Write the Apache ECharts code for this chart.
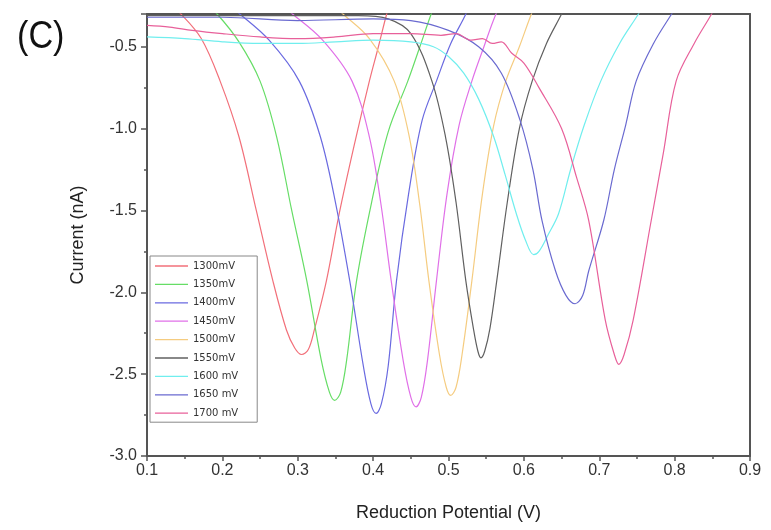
<!DOCTYPE html>
<html><head><meta charset="utf-8">
<script src="https://cdn.jsdelivr.net/npm/echarts@6/dist/echarts.min.js"></script>
<style>html,body{margin:0;padding:0;background:#fff}#c{width:771px;height:530px}</style>
</head><body><div id="c"></div>
<script>
const seriesNames = ['1300mV','1350mV','1400mV','1450mV','1500mV','1550mV','1600 mV','1650 mV','1700 mV'];
const xTicks = [0.1,0.2,0.3,0.4,0.5,0.6,0.7,0.8,0.9];
const yTicks = [-3.0,-2.5,-2.0,-1.5,-1.0,-0.5];

const s1300 = [[0.125,-0.22],[0.145,-0.30],[0.172,-0.45],[0.197,-0.71],[0.222,-1.05],[0.245,-1.50],[0.267,-1.93],[0.285,-2.23],[0.296,-2.34],[0.305,-2.38],[0.314,-2.35],[0.322,-2.23],[0.338,-1.93],[0.355,-1.52],[0.375,-1.10],[0.395,-0.71],[0.407,-0.50],[0.418,-0.30],[0.428,-0.15]];
const s1350 = [[0.17,-0.20],[0.193,-0.30],[0.222,-0.47],[0.250,-0.71],[0.272,-1.05],[0.292,-1.50],[0.312,-1.93],[0.331,-2.41],[0.342,-2.61],[0.349,-2.66],[0.357,-2.61],[0.365,-2.41],[0.378,-1.93],[0.398,-1.45],[0.420,-1.02],[0.446,-0.71],[0.462,-0.50],[0.477,-0.30],[0.487,-0.18]];
const s1400 = [[0.20,-0.22],[0.223,-0.30],[0.262,-0.46],[0.302,-0.71],[0.330,-1.05],[0.350,-1.45],[0.369,-1.93],[0.387,-2.45],[0.397,-2.68],[0.404,-2.74],[0.411,-2.68],[0.420,-2.45],[0.431,-1.93],[0.447,-1.40],[0.465,-0.95],[0.484,-0.71],[0.503,-0.48],[0.523,-0.30],[0.533,-0.18]];
const s1450 = [[0.27,-0.22],[0.293,-0.30],[0.333,-0.46],[0.372,-0.71],[0.395,-1.05],[0.410,-1.45],[0.424,-1.93],[0.440,-2.42],[0.450,-2.64],[0.457,-2.70],[0.464,-2.64],[0.472,-2.42],[0.484,-1.93],[0.498,-1.40],[0.514,-0.98],[0.531,-0.71],[0.547,-0.50],[0.563,-0.30],[0.575,-0.20]];
const s1500 = [[0.34,-0.22],[0.36,-0.30],[0.395,-0.45],[0.428,-0.71],[0.448,-1.05],[0.462,-1.47],[0.474,-1.93],[0.488,-2.38],[0.497,-2.58],[0.503,-2.63],[0.510,-2.58],[0.518,-2.38],[0.531,-1.93],[0.545,-1.40],[0.560,-0.98],[0.576,-0.71],[0.594,-0.50],[0.610,-0.30],[0.620,-0.20]];
const s1550 = [[0.10,-0.31],[0.20,-0.31],[0.30,-0.31],[0.38,-0.31],[0.42,-0.33],[0.45,-0.42],[0.478,-0.71],[0.496,-1.05],[0.510,-1.45],[0.523,-1.93],[0.533,-2.22],[0.539,-2.36],[0.543,-2.40],[0.548,-2.36],[0.555,-2.22],[0.564,-1.93],[0.578,-1.45],[0.594,-1.00],[0.611,-0.71],[0.630,-0.48],[0.650,-0.30],[0.660,-0.20]];
const s1600 = [[0.10,-0.44],[0.15,-0.45],[0.20,-0.47],[0.25,-0.48],[0.30,-0.48],[0.35,-0.47],[0.40,-0.46],[0.45,-0.47],[0.48,-0.50],[0.50,-0.56],[0.52,-0.66],[0.54,-0.82],[0.56,-1.05],[0.575,-1.28],[0.59,-1.52],[0.602,-1.68],[0.613,-1.77],[0.620,-1.75],[0.632,-1.65],[0.646,-1.52],[0.662,-1.25],[0.680,-0.98],[0.702,-0.71],[0.727,-0.48],[0.752,-0.30],[0.765,-0.20]];
const s1650 = [[0.10,-0.32],[0.20,-0.32],[0.30,-0.34],[0.40,-0.33],[0.45,-0.34],[0.50,-0.40],[0.54,-0.50],[0.57,-0.66],[0.595,-0.95],[0.612,-1.25],[0.624,-1.56],[0.642,-1.87],[0.656,-2.02],[0.668,-2.07],[0.678,-2.02],[0.686,-1.87],[0.706,-1.56],[0.720,-1.25],[0.735,-0.98],[0.749,-0.71],[0.772,-0.48],[0.796,-0.30],[0.810,-0.20]];
const s1700 = [[0.10,-0.37],[0.13,-0.38],[0.16,-0.40],[0.20,-0.42],[0.25,-0.44],[0.30,-0.45],[0.35,-0.44],[0.40,-0.42],[0.45,-0.42],[0.49,-0.43],[0.51,-0.42],[0.53,-0.46],[0.545,-0.45],[0.558,-0.48],[0.57,-0.47],[0.584,-0.54],[0.60,-0.60],[0.62,-0.75],[0.65,-1.00],[0.67,-1.30],[0.686,-1.56],[0.708,-2.17],[0.720,-2.38],[0.726,-2.44],[0.733,-2.38],[0.745,-2.17],[0.769,-1.56],[0.785,-1.15],[0.802,-0.71],[0.826,-0.48],[0.849,-0.30],[0.860,-0.20]];

const seriesData = [s1300,s1350,s1400,s1450,s1500,s1550,s1600,s1650,s1700];
const colors = ['#f2707a','#66dd66','#6a6ae0','#e070e8','#f5cc80','#606060','#70eeee','#6a6ad0','#e8609a'];

const chart = echarts.init(document.getElementById('c'), null, {renderer:'canvas'});
const axisCol = '#555';
const lblCol = '#333';
const font = 'Liberation Sans, Arial, sans-serif';
chart.setOption({
  animation:false,
  backgroundColor:'#fff',
  textStyle:{fontFamily:font},
  grid:{left:147,right:21,top:14,bottom:74,containLabel:false},
  graphic:[{type:'text',left:17,top:19,scaleX:0.9,style:{text:'(C)',fontSize:38,fill:'#111',fontFamily:font}}],
  legend:{
    orient:'vertical',left:150,top:256,
    data:seriesNames,
    icon:'rect',itemWidth:33,itemHeight:1.3,itemGap:6.4,
    padding:[4,19,3,5],
    borderColor:'#888',borderWidth:1,backgroundColor:'#fff',
    textStyle:{fontSize:10,lineHeight:12,color:'#333',fontFamily:'DejaVu Sans, sans-serif'}
  },
  xAxis:[{
    type:'value',min:0.1,max:0.9,interval:0.1,position:'bottom',
    name:'Reduction Potential (V)',nameLocation:'middle',nameGap:48,
    nameTextStyle:{fontSize:18,color:'#222',fontFamily:font},
    axisLine:{show:true,lineStyle:{color:axisCol,width:2}},
    axisTick:{show:true,inside:false,length:5,lineStyle:{color:axisCol,width:1.5}},
    minorTick:{show:true,splitNumber:2,length:3,lineStyle:{color:axisCol,width:1.5}},
    axisLabel:{fontSize:16,color:lblCol,margin:7,formatter:v=>v.toFixed(1)},
    splitLine:{show:false}
  },{
    type:'value',min:0.1,max:0.9,interval:0.1,position:'top',
    axisLine:{show:true,lineStyle:{color:axisCol,width:2}},
    axisTick:{show:false},axisLabel:{show:false},splitLine:{show:false}
  }],
  yAxis:[{
    type:'value',min:-3.0,max:-0.3,interval:0.5,position:'left',
    name:'Current (nA)',nameLocation:'middle',nameGap:60,nameRotate:90,
    nameTextStyle:{fontSize:18,color:'#222',fontFamily:font},
    axisLine:{show:true,lineStyle:{color:axisCol,width:2}},
    axisTick:{show:true,inside:false,length:6,lineStyle:{color:axisCol,width:1.5}},
    minorTick:{show:true,splitNumber:2,length:3,lineStyle:{color:axisCol,width:1.5}},
    axisLabel:{fontSize:16,color:lblCol,margin:10,showMaxLabel:false,formatter:v=>v.toFixed(1)},
    splitLine:{show:false}
  },{
    type:'value',min:-3.0,max:-0.3,interval:0.5,position:'right',
    axisLine:{show:true,lineStyle:{color:axisCol,width:2}},
    axisTick:{show:false},axisLabel:{show:false},splitLine:{show:false}
  }],
  series: seriesData.map((d,i)=>({
    name:seriesNames[i],type:'line',data:d,xAxisIndex:0,yAxisIndex:0,
    smooth:0.35,symbol:'none',clip:true,
    lineStyle:{color:colors[i],width:1.2},itemStyle:{color:colors[i]}
  }))
});
</script></body></html>
